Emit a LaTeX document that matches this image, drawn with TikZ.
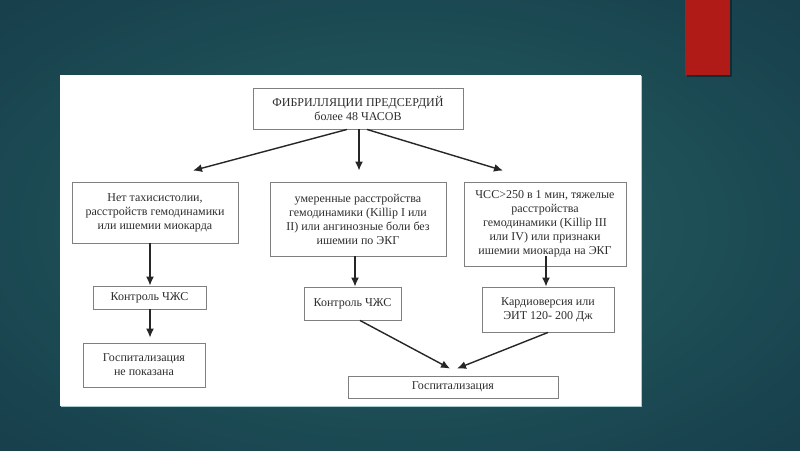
\documentclass[tikz,border=0pt]{standalone}
\usepackage{fontspec}
\setmainfont{Liberation Serif}
\usetikzlibrary{arrows.meta,calc}
\definecolor{bgdark}{HTML}{133646}
\definecolor{bgmid}{HTML}{1D4D55}
\definecolor{bglight}{HTML}{2A6062}
\definecolor{redbar}{HTML}{B01A17}
\definecolor{txt}{HTML}{2E2E2E}
\definecolor{boxline}{HTML}{808080}
\definecolor{panelshadow}{HTML}{A6CDD3}
\pgfdeclareradialshading{bgshade}{\pgfpoint{0bp}{0bp}}{color(0bp)=(bglight); color(20bp)=(bgmid); color(45bp)=(bgdark); color(70bp)=(bgdark)}
\tikzset{
  box/.style={draw=boxline, line width=0.9pt, fill=white, text=txt, align=center,
    inner sep=0pt, font=\fontsize{12}{14}\selectfont},
  arr/.style={draw=black!85, line width=1.4pt, -{Latex[length=9pt,width=8pt]}},
}
\begin{document}
\begin{tikzpicture}[x=1pt,y=-1pt]
\useasboundingbox (0,0) rectangle (800,450);
\shade[shading=bgshade] (0,0) rectangle (800,450);
% red bar with shadow
\fill[black, opacity=0.35] (687,0) rectangle (732,77);
\fill[redbar] (685,0) rectangle (730,75);
% white panel
\draw[panelshadow, line width=1pt] (61,406.5) -- (641.5,406.5) -- (641.5,76);
\fill[white] (60,75) rectangle (641,406);

\node[box, minimum width=210pt, minimum height=41pt] (top) at (358,108.5)
  {ФИБРИЛЛЯЦИИ ПРЕДСЕРДИЙ\\более 48 ЧАСОВ};
\node[box, minimum width=166pt, minimum height=61pt] (left) at (155,212.5)
  {Нет тахисистолии,\\расстройств гемодинамики\\или ишемии миокарда};
\node[box, minimum width=176pt, minimum height=74pt] (mid) at (358,219)
  {умеренные расстройства\\гемодинамики (Killip I или\\II) или ангинозные боли без\\ишемии по ЭКГ};
\node[box, minimum width=162pt, minimum height=84pt] (right) at (545,224)
  {ЧСС>250 в 1 мин, тяжелые\\расстройства\\гемодинамики (Killip III\\или IV) или признаки\\ишемии миокарда на ЭКГ};
\node[box, minimum width=113pt, minimum height=23pt] (kl) at (149.5,297.5) {Контроль ЧЖС};
\node[box, minimum width=122pt, minimum height=44pt] (gl) at (144,365) {Госпитализация\\не показана};
\node[box, minimum width=97pt, minimum height=33pt] (km) at (352.5,303.5) {Контроль ЧЖС};
\node[box, minimum width=132pt, minimum height=45pt] (kard) at (548,309.5) {Кардиоверсия или\\ЭИТ 120- 200 Дж};
\node[box, minimum width=210pt, minimum height=22pt] (gb) at (453,387) {Госпитализация};

\draw[arr] ([xshift=-11pt]top.south) -- ([xshift=38pt,yshift=11pt]left.north);
\draw[arr] ([xshift=1pt]top.south) -- ([xshift=1pt,yshift=11pt]mid.north);
\draw[arr] ([xshift=9pt]top.south) -- ([xshift=-42pt,yshift=11pt]right.north);
\draw[arr] ([xshift=-5pt]left.south) -- ([xshift=0.5pt]kl.north);
\draw[arr] ([xshift=0.5pt]kl.south) -- ([xshift=6pt,yshift=5pt]gl.north);
\draw[arr] ([xshift=-3pt]mid.south) -- ([xshift=2.5pt]km.north);
\draw[arr] ([xshift=1pt,yshift=10pt]right.south) -- ([xshift=-2pt]kard.north);
\draw[arr] ([xshift=7.5pt]km.south) -- ([xshift=-3pt,yshift=7pt]gb.north);
\draw[arr] (kard.south) -- ([xshift=4pt,yshift=7pt]gb.north);
\end{tikzpicture}
\end{document}
